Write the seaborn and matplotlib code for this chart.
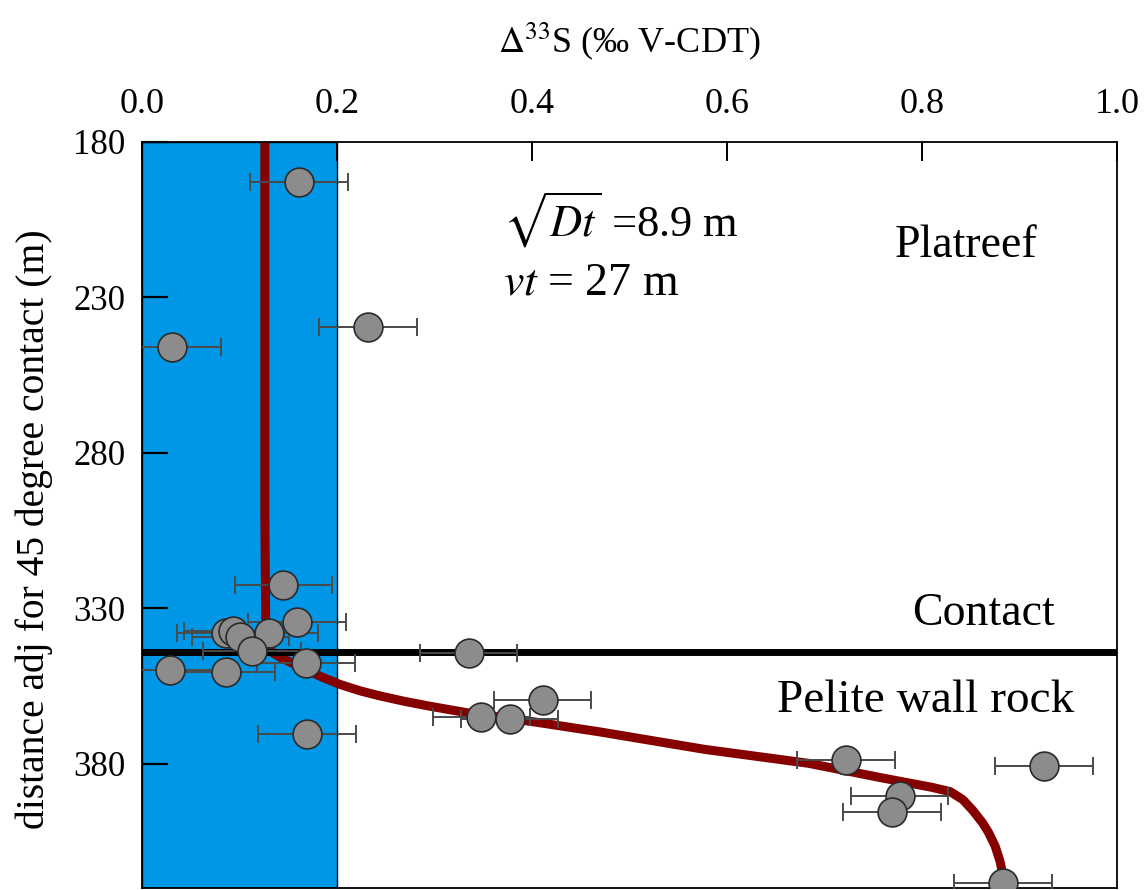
import numpy as np
import pandas as pd
import matplotlib
matplotlib.use("Agg")
import matplotlib.pyplot as plt
import seaborn as sns

# Measured Δ33S values (‰ V-CDT) with depth (m, adjusted for 45 degree contact)
d33s = [0.161, 0.232, 0.031, 0.145, 0.159, 0.086, 0.093, 0.101, 0.130,
        0.113, 0.029, 0.086, 0.168, 0.169, 0.335, 0.411, 0.348, 0.377,
        0.722, 0.925, 0.777, 0.769, 0.883]
depth = [192.8, 239.4, 245.8, 322.5, 334.4, 338.0, 337.2, 339.3, 337.9,
         343.7, 349.8, 350.4, 347.5, 370.3, 344.3, 359.4, 364.9, 365.5,
         378.8, 380.6, 390.5, 395.4, 418.5]
d33s_err = [0.05] * len(d33s)

# Diffusion-advection model profile
model_d33s = [0.126, 0.126, 0.127, 0.129, 0.134, 0.142, 0.155, 0.170, 0.185,
              0.203, 0.224, 0.244, 0.270, 0.295, 0.333, 0.401, 0.470, 0.577,
              0.684, 0.756, 0.810, 0.829, 0.842, 0.852, 0.862, 0.868, 0.875,
              0.880, 0.883, 0.885]
model_depth = [180, 300, 340, 342.5, 344.3, 345.8, 347.8, 350.0, 352.2,
               354.5, 356.6, 358.2, 360.0, 361.5, 363.6, 366.5, 369.8, 375.4,
               379.9, 384.4, 387.6, 389.0, 391.6, 395.0, 399.0, 402.0, 406.5,
               411.4, 415.9, 420]

contact_depth = 344
platreef_range = (0.0, 0.2)

xticks = [0.0, 0.2, 0.4, 0.6, 0.8, 1.0]
yticks = [180, 230, 280, 330, 380]

sns.set_theme(style="white")
plt.rcParams["font.family"] = ["Liberation Serif", "DejaVu Serif"]
plt.rcParams["mathtext.fontset"] = "stix"
plt.rcParams["text.color"] = "black"
plt.rcParams["axes.labelcolor"] = "black"

fig = plt.figure(figsize=(11.46, 8.90), dpi=100)
ax = fig.add_axes([142 / 1146, 1 - 888 / 890, (1117 - 142) / 1146, (888 - 142) / 890])

ax.axvspan(*platreef_range, facecolor="#0098E6", edgecolor="black", linewidth=1.0, zorder=0)

model = pd.DataFrame({"d33s": model_d33s, "depth": model_depth})
sns.lineplot(data=model, x="d33s", y="depth", sort=False, estimator=None,
             color="#860000", linewidth=6.5, ax=ax, zorder=2)
ax.lines[-1].set_solid_joinstyle("round")

ax.axhline(contact_depth, color="black", linewidth=5, zorder=3)

ax.errorbar(d33s, depth, xerr=d33s_err, fmt="none", ecolor="#4a4a4a",
            elinewidth=1.4, capsize=6.5, capthick=1.4, zorder=4)

pts = pd.DataFrame({"d33s": d33s, "depth": depth})
sns.scatterplot(data=pts, x="d33s", y="depth", s=430, color="#8c8c8c",
                edgecolor="#2a2a2a", linewidth=1.2, ax=ax, zorder=5, clip_on=True)

ax.set_xlim(0, 1.0)
ax.set_ylim(420, 180)
ax.set_xticks(xticks)
ax.set_xticklabels([f"{v:.1f}" for v in xticks])
ax.set_yticks(yticks)

ax.xaxis.tick_top()
ax.xaxis.set_label_position("top")
ax.tick_params(axis="x", direction="in", length=14, width=1.4, labelsize=26,
               pad=15, colors="black", top=True, bottom=False)
ax.tick_params(axis="y", direction="in", length=19, width=1.6, labelsize=25,
               pad=12, colors="black", left=True, right=False)

ax.set_xlabel(r"$\Delta^{33}$S (‰ V-CDT)", fontsize=26, labelpad=26)
ax.set_ylabel("distance adj for 45 degree contact (m)", fontsize=28.5)
ax.yaxis.set_label_coords(-0.091, 0.481)

for s in ax.spines.values():
    s.set_color("black")
    s.set_linewidth(1.3)

ax.text(0.845, 213.5, "Platreef", fontsize=33, ha="center", va="center")
ax.text(0.863, 331.8, "Contact", fontsize=33, ha="center", va="center")
ax.text(0.804, 359.8, "Pelite wall rock", fontsize=34, ha="center", va="center")
ax.text(0.370, 205, r"$\sqrt{Dt}$ =8.9 m", fontsize=32, ha="left", va="center")
ax.text(0.370, 225.5, r"$vt$ = 27 m", fontsize=33, ha="left", va="center")

fig.savefig("out.png", dpi=100, facecolor="white")
